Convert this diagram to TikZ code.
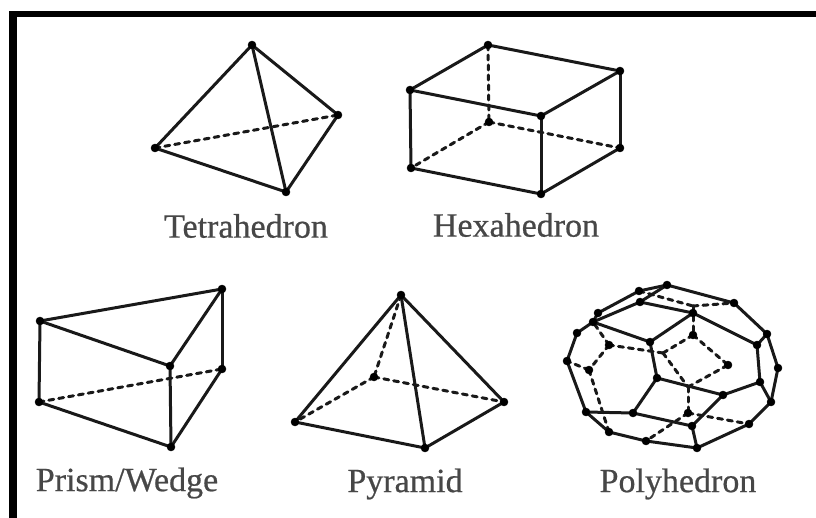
\documentclass[tikz,border=0pt]{standalone}
\usepackage{fontspec}
\usepackage{tkz-euclide}
\setmainfont[FakeBold=0.6]{Liberation Serif}
\definecolor{labelgray}{gray}{0.28}
\definecolor{linegray}{gray}{0.1}
\tikzset{
	edgeline/.style={line width=3pt, color=linegray, line cap=round},
	hiddenline/.style={line width=3pt, color=linegray, dash pattern=on 5pt off 5pt},
	shapelabel/.style={font=\fontsize{34}{36}\selectfont, text=labelgray, inner sep=0pt}
}
\begin{document}
\begin{tikzpicture}[x=1pt, y=-1pt]
		\useasboundingbox (0,0) rectangle (816,518);
		\fill[black] (9,11) rectangle (816,17);
		\fill[black] (9,11) rectangle (17,518);
		\tkzSetUpPoint[size=8,color=black,fill=black]

		% tetrahedron
		\tkzDefPoint(252,45){TA}
		\tkzDefPoint(155,148){TB}
		\tkzDefPoint(338,115){TC}
		\tkzDefPoint(286,192){TD}
		\tkzDrawSegments[edgeline](TA,TB TA,TC TA,TD TB,TD TC,TD)
		\tkzDrawSegment[hiddenline](TB,TC)
		\tkzDrawPoints(TA,TB,TC,TD)
		\node[shapelabel] (tetralabel) at (246,226) {Tetrahedron};

		% hexahedron
		\tkzDefPoint(488,45){HA}
		\tkzDefPoint(410,90){HB}
		\tkzDefPoint(541,116){HC}
		\tkzDefPoint(620,71){HD}
		\tkzDefPoint(489,122){HE}
		\tkzDefPoint(411,168){HF}
		\tkzDefPoint(541,194){HG}
		\tkzDefPoint(620,148){HH}
		\tkzDrawSegments[edgeline](HA,HB HB,HC HC,HD HD,HA HB,HF HC,HG HD,HH HF,HG HG,HH)
		\tkzDrawSegments[hiddenline](HA,HE HE,HF HE,HH)
		\tkzDrawPoints(HA,HB,HC,HD,HE,HF,HG,HH)
		\node[shapelabel] (hexalabel) at (516,225) {Hexahedron};

		% prism
		\tkzDefPoint(40,321){WA}
		\tkzDefPoint(222,289){WB}
		\tkzDefPoint(170,366){WC}
		\tkzDefPoint(222,369){WD}
		\tkzDefPoint(39,402){WE}
		\tkzDefPoint(171,447){WF}
		\tkzDrawSegments[edgeline](WA,WB WA,WC WB,WC WA,WE WB,WD WC,WF WE,WF WF,WD)
		\tkzDrawSegment[hiddenline](WE,WD)
		\tkzDrawPoints(WA,WB,WC,WD,WE,WF)
		\node[shapelabel] (prismlabel) at (127,483) {Prism/Wedge};

		% pyramid
		\tkzDefPoint(401,295){PA}
		\tkzDefPoint(374,377){PB}
		\tkzDefPoint(295,422){PC}
		\tkzDefPoint(504,402){PD}
		\tkzDefPoint(425,448){PE}
		\tkzDrawSegments[edgeline](PA,PC PA,PD PA,PE PC,PE PE,PD)
		\tkzDrawSegments[hiddenline](PA,PB PB,PC PB,PD)
		\tkzDrawPoints(PA,PB,PC,PD,PE)
		\node[shapelabel] (pyramidlabel) at (405,484) {Pyramid};

		% polyhedron
		\tkzDefPoint(667,285){a}
		\tkzDefPoint(639,291){b}
		\tkzDefPoint(598,313){c}
		\tkzDefPoint(593,322){d}
		\tkzDefPoint(640,302){e}
		\tkzDefPoint(693,313){f}
		\tkzDefPoint(734,303){g}
		\tkzDefPoint(767,334){h}
		\tkzDefPoint(757,345){i}
		\tkzDefPoint(778,368){j}
		\tkzDefPoint(760,382){k}
		\tkzDefPoint(771,402){l}
		\tkzDefPoint(749,424){m}
		\tkzDefPoint(697,448){n}
		\tkzDefPoint(692,426){o}
		\tkzDefPoint(723,395){p}
		\tkzDefPoint(657,378){q}
		\tkzDefPoint(650,342){r}
		\tkzDefPoint(577,333){s}
		\tkzDefPoint(567,361){t}
		\tkzDefPoint(586,412){u}
		\tkzDefPoint(609,432){v}
		\tkzDefPoint(633,413){w}
		\tkzDefPoint(646,441){x}
		\tkzDefPoint(609,345){y}
		\tkzDefPoint(589,370){z}
		\tkzDefPoint(693,335){C}
		\tkzDefPoint(663,353){D}
		\tkzDefPoint(728,365){E}
		\tkzDefPoint(688,387){F}
		\tkzDefPoint(688,413){G}
		\tkzDefPoint(693,306){I}
		\tkzDrawSegments[edgeline](a,b b,c c,d d,s s,t t,u u,v v,x x,n n,m m,l l,j j,h h,g g,a)
		\tkzDrawSegments[edgeline](a,e e,d e,f f,r r,d f,i i,h i,k k,l k,p p,q q,r q,w w,u w,o o,p o,n)
		\tkzDrawSegments[hiddenline](b,I I,g I,C C,D C,E D,y y,d y,z z,t z,v D,F F,E F,G G,x G,m)
		\tkzDrawPoints(a,b,c,d,e,f,g,h,i,j,k,l,m,n,o,p,q,r,s,t,u,v,w,x,y,z,C,E,G)
		\node[shapelabel] (polylabel) at (678,484) {Polyhedron};
	\end{tikzpicture}
\end{document}
